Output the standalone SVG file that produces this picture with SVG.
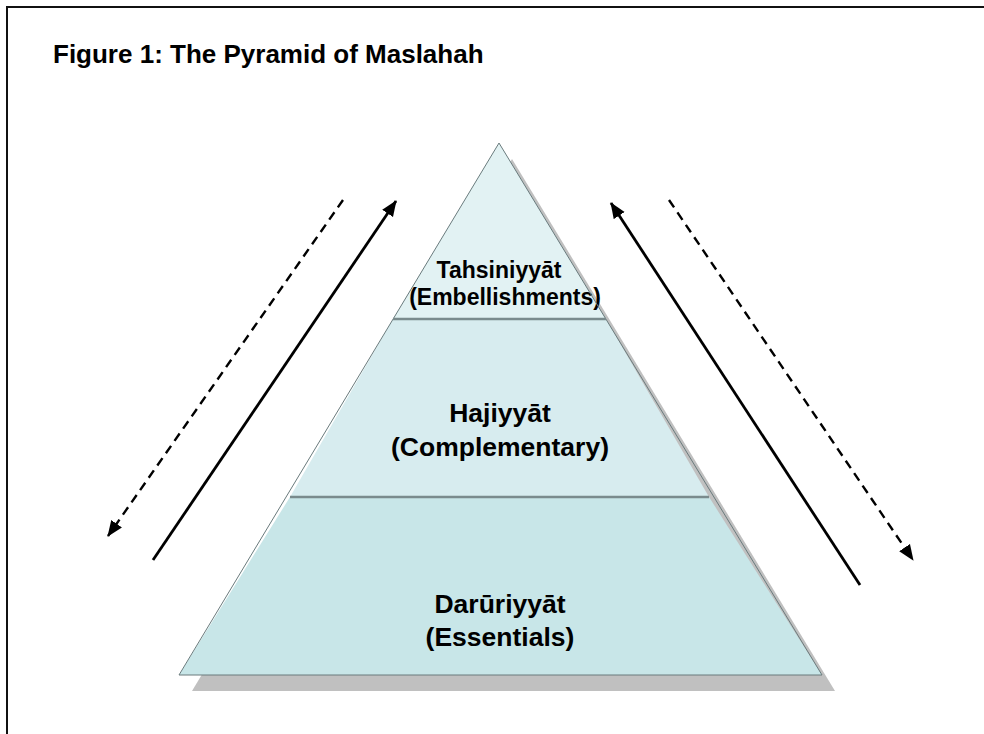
<svg xmlns="http://www.w3.org/2000/svg" width="984" height="734" viewBox="0 0 984 734">
<defs>
<marker id="ah" markerUnits="userSpaceOnUse" markerWidth="17" markerHeight="14" refX="15" refY="7" orient="auto">
<path d="M0,0.5 L16,7 L0,13.5 Z" fill="#000"/>
</marker>
</defs>
<style>
.lbl{font-family:"Liberation Sans",Arial,sans-serif;font-weight:bold;fill:#000;text-anchor:middle}
.edge{stroke:#6a7b7d;stroke-width:1;fill:none}
.div{stroke:#7a8b8d;stroke-width:2.5}
.solid{stroke:#000;stroke-width:2.8;fill:none;marker-end:url(#ah)}
.dash{stroke:#000;stroke-width:2.4;fill:none;stroke-dasharray:9,6;marker-end:url(#ah)}
</style>
<rect x="0" y="0" width="984" height="734" fill="#fff"/>
<rect x="7" y="7" width="1000" height="760" fill="none" stroke="#111" stroke-width="2"/>
<text x="53" y="63" class="lbl" style="text-anchor:start;font-size:26px">Figure 1: The Pyramid of Maslahah</text>
<polygon id="shadow" points="512,159 192,691 835,691" fill="#c0c0c0"/>
<g id="darurijjat">
<polygon points="290,497 179,675 822,675 709,497" fill="#c8e6e8"/>
<text class="lbl" x="500" y="613" style="font-size:26.5px">Darūriyyāt</text>
<text class="lbl" x="500" y="646" style="font-size:26.5px">(Essentials)</text>
</g>
<g id="hajiyyat">
<polygon points="393,319 290,497 709,497 606,319" fill="#d7ecef"/>
<text class="lbl" x="500" y="422" style="font-size:26.5px">Hajiyyāt</text>
<text class="lbl" x="500" y="456" style="font-size:26.5px">(Complementary)</text>
</g>
<g id="tahsiniyyat">
<polygon points="499,143 393,319 606,319" fill="#e2f2f3"/>
<text class="lbl" x="499" y="278" style="font-size:23px">Tahsiniyyāt</text>
<text class="lbl" x="505" y="305" style="font-size:23px">(Embellishments)</text>
</g>
<g id="outline">
<polygon class="edge" points="499,143 179,675 822,675"/>
<line class="div" x1="393" y1="319" x2="606" y2="319"/>
<line class="div" x1="290" y1="497" x2="709" y2="497"/>
</g>
<g id="connectors">
<line class="dash" x1="343" y1="200" x2="108" y2="536"/>
<line class="solid" x1="153" y1="560" x2="396" y2="201"/>
<line class="solid" x1="860" y1="585" x2="611" y2="203"/>
<line class="dash" x1="669" y1="200" x2="913" y2="560"/>
</g>
</svg>
